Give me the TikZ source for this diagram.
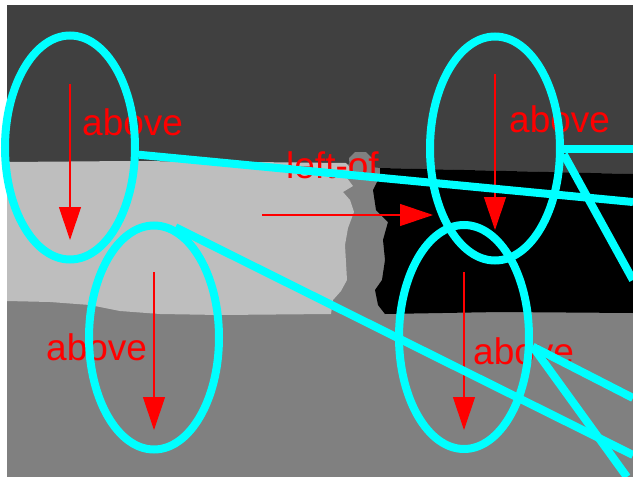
\documentclass[tikz,border=0pt]{standalone}
\usepackage{fontspec}
\newfontfamily\labelfont{Liberation Sans}
\usetikzlibrary{arrows.meta,shapes.geometric}

\definecolor{skydark}{gray}{0.25}
\definecolor{wallgray}{gray}{0.745}
\definecolor{floorgray}{gray}{0.5}
\definecolor{ringcyan}{RGB}{0,255,255}
\definecolor{relred}{RGB}{255,0,0}

\tikzset{
 segring/.style={ellipse,draw=ringcyan,line width=8pt,minimum width=130pt,minimum height=224pt,inner sep=0pt},
 link/.style={ringcyan,line width=8pt},
 rel/.style={relred,line width=1.2pt,-{Triangle[length=33pt,width=22pt]}},
 rellabel/.style={text=relred,font=\labelfont\fontsize{37}{37}\selectfont,anchor=base west,inner sep=0pt}
}

\begin{document}
\begin{tikzpicture}[x=1pt,y=-1pt]
\useasboundingbox (0,0) rectangle (633,477);
% scene
\fill[floorgray] (7,5) rectangle (633,477);
\fill[skydark] (7,5) -- (633,5) -- (633,174) -- (380,168) -- (345,164) -- (7,162) -- cycle;
\fill[wallgray] (7,162) -- (130,161) -- (250,162) -- (346,163) -- (352,170) -- (347,178) -- (353,186)
 -- (343,192) -- (350,200) -- (354,212) -- (348,228) -- (345,245) -- (347,280) -- (341,291)
 -- (333,300) -- (331,314) -- (220,315) -- (160,314) -- (120,311) -- (90,305) -- (50,302) -- (7,301) -- cycle;
\fill[black] (380,168) -- (633,174) -- (633,313) -- (500,312) -- (385,314) -- (378,305) -- (375,290)
 -- (382,280) -- (385,260) -- (383,240) -- (388,222) -- (376,210) -- (373,190) -- (380,176) -- cycle;
\fill[floorgray] (350,170) -- (349,158) -- (355,152) -- (366,152) -- (372,158) -- (375,169) -- cycle;
% relations
\coordinate (a1) at (70,84);   \coordinate (a2) at (70,240);
\coordinate (b1) at (154,272); \coordinate (b2) at (154,430);
\coordinate (c1) at (495,74);  \coordinate (c2) at (495,230);
\coordinate (d1) at (464,272); \coordinate (d2) at (464,430);
\coordinate (l1) at (262,215); \coordinate (l2) at (433,215);
\foreach \s/\t in {a1/a2,b1/b2,c1/c2,d1/d2,l1/l2}
 \draw[rel] (\s) -- (\t);
\node[rellabel] (la) at (82,135) {above};
\node[rellabel] (lb) at (46,360) {above};
\node[rellabel] (lc) at (509,132) {above};
\node[rellabel] (ld) at (473,364) {above};
\node[rellabel] (ll) at (286,178) {left-of};
% segments
\node[segring] (A) at (70,147.5) {};
\node[segring] (B) at (154,337.5) {};
\node[segring] (C) at (495,148.5) {};
\node[segring] (D) at (464,337) {};
\coordinate (eA) at (633,202);
\coordinate (eB) at (633,455);
\coordinate (eC1) at (633,148.5);
\coordinate (eC2) at (633,280);
\coordinate (eD1) at (633,398);
\coordinate (eD2) at (627,477);
\draw[link] (A.-6) -- (eA);
\draw[link] (B.79) -- (eB);
\draw[link] (C.east) -- (eC1);
\draw[link] (C.-5) -- (eC2);
\draw[link] (D.-8) -- (eD1);
\draw[link] (D.-8) -- (eD2);
\end{tikzpicture}
\end{document}
